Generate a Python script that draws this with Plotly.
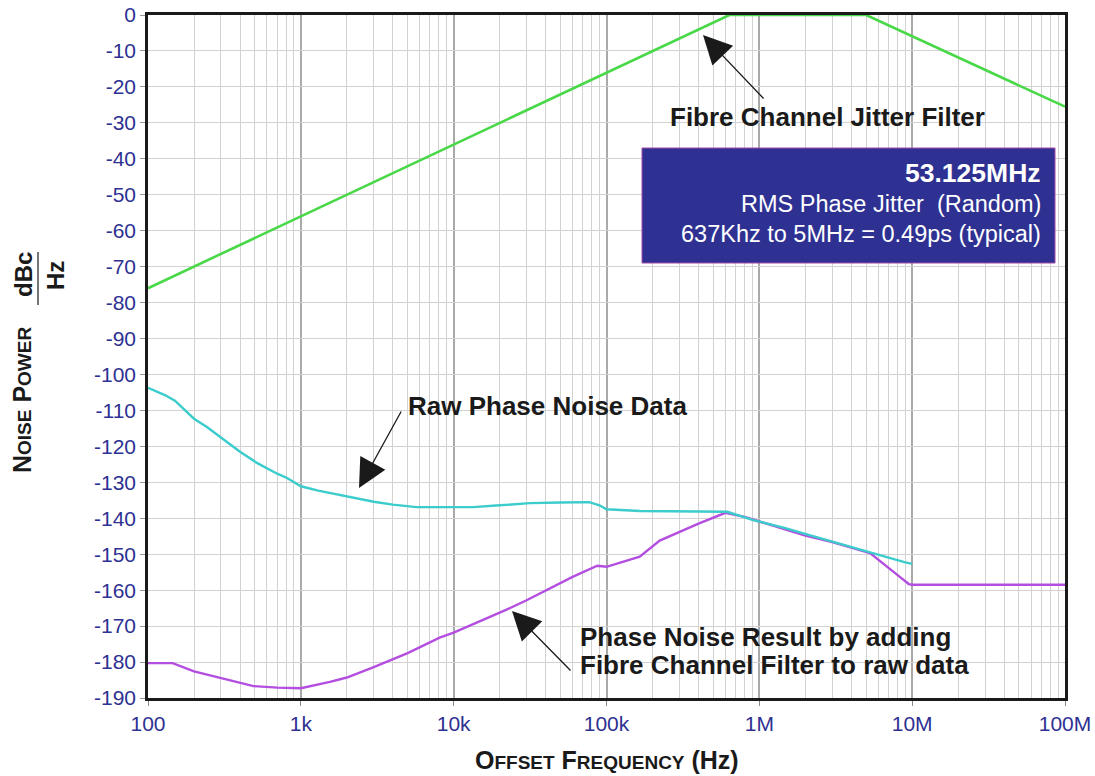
import math
import plotly.graph_objects as go

# ---------------- data ----------------
filter_freq = [100, 637000, 5000000, 100000000]
filter_db = [-76, 0, 0, -25.5]

raw_freq = [100, 130, 150, 200, 243, 300, 400, 516, 700, 813, 1000, 1300, 1800,
            3000, 4000, 5700, 10000, 13400, 20000, 31600, 50000, 77000, 90000,
            100000, 165000, 300000, 617000, 912000, 1500000, 2100000, 3000000,
            4600000, 7000000, 8900000, 10000000]
raw_db = [-103.7, -105.8, -107.3, -112.3, -114.6, -117.6, -121.5, -124.6, -127.6,
          -128.8, -131.1, -132.3, -133.5, -135.4, -136.2, -136.9, -136.9, -136.9,
          -136.4, -135.8, -135.6, -135.5, -136.4, -137.5, -138.0, -138.1, -138.2,
          -140.5, -142.8, -144.6, -146.5, -148.8, -150.9, -152.2, -152.7]

result_freq = [100, 145, 200, 330, 490, 700, 1000, 1550, 2000, 3000, 5000, 8100,
               10000, 22000, 30000, 60000, 87000, 100000, 165000, 223000, 400000,
               600000, 800000, 1000000, 2000000, 3000000, 5300000, 8300000,
               9500000, 10000000, 100000000]
result_db = [-180.3, -180.3, -182.6, -185.0, -186.7, -187.1, -187.3, -185.5, -184.3,
             -181.4, -177.5, -173.2, -171.8, -165.5, -162.8, -156.3, -153.2, -153.5,
             -150.7, -146.2, -141.5, -138.5, -139.6, -140.9, -144.8, -146.6, -149.7,
             -156.3, -158.3, -158.5, -158.5]

x_tick_vals = [100, 1000, 10000, 100000, 1000000, 10000000, 100000000]
x_tick_text = ["100", "1k", "10k", "100k", "1M", "10M", "100M"]
y_tick_vals = list(range(0, -191, -10))
y_tick_text = [str(v) for v in y_tick_vals]

minor_vals = [m * 10 ** d for d in range(2, 8) for m in range(2, 10)]

# ---------------- figure ----------------
FONT = "Liberation Sans, Arial, Helvetica, sans-serif"
TICKCOL = "#2e3192"

fig = go.Figure()
fig.add_trace(go.Scatter(x=filter_freq, y=filter_db, mode="lines",
                         line=dict(color="#48d848", width=2.6),
                         name="Fibre Channel Jitter Filter", showlegend=False))
fig.add_trace(go.Scatter(x=result_freq, y=result_db, mode="lines",
                         line=dict(color="#b34ee0", width=2.4),
                         name="Phase Noise Result", showlegend=False))
fig.add_trace(go.Scatter(x=raw_freq, y=raw_db, mode="lines",
                         line=dict(color="#3ccccc", width=2.4),
                         name="Raw Phase Noise Data", showlegend=False))

L, R, T, B = 148, 30, 15, 78
W, H = 1095, 776
PW, PH = W - L - R, H - T - B


def px(x):
    return (x - L) / PW


def py(y):
    return (H - B - y) / PH


def lx(x):
    return 2 + (x - L) / (PW / 6.0)


def ly(y):
    return -(y - T) / (PH / 190.0)


fig.update_layout(
    width=W, height=H,
    margin=dict(l=L, r=R, t=T, b=B, autoexpand=False),
    paper_bgcolor="white", plot_bgcolor="white",
    font=dict(family=FONT, size=21, color=TICKCOL),
    showlegend=False,
)

fig.update_xaxes(
    type="log", range=[2, 8], automargin=False,
    tickmode="array", tickvals=x_tick_vals, ticktext=x_tick_text,
    tickfont=dict(family=FONT, size=21, color=TICKCOL),
    showgrid=True, gridcolor="#a9a9a9", gridwidth=1.6,
    minor=dict(tickmode="array", tickvals=minor_vals, showgrid=True,
               gridcolor="#d2d2d2", gridwidth=1.4, ticks=""),
    ticks="outside", ticklen=5, tickcolor="#888888",
    showline=True, mirror=True, linecolor="#1a1a1a", linewidth=2.5,
    zeroline=False,
)
fig.update_yaxes(
    range=[-190, 0], automargin=False,
    tickmode="array", tickvals=y_tick_vals, ticktext=y_tick_text,
    tickfont=dict(family=FONT, size=21, color=TICKCOL),
    showgrid=True, gridcolor="#d2d2d2", gridwidth=1.4,
    ticks="outside", ticklen=5, tickcolor="#999999",
    showline=True, mirror=True, linecolor="#1a1a1a", linewidth=2.5,
    zeroline=False,
)

ann = []
BLACK = "#1a1a1a"

# axis titles (small caps)
ann.append(dict(xref="paper", yref="paper", x=px(607), y=py(760), showarrow=False,
                text="<b>O<span style='font-size:19px'>FFSET</span> F<span style='font-size:19px'>REQUENCY</span> (Hz)</b>",
                font=dict(family=FONT, size=25, color=BLACK), xanchor="center", yanchor="middle"))
ann.append(dict(xref="paper", yref="paper", x=px(22), y=py(400), showarrow=False, textangle=-90,
                text="<b>N<span style='font-size:19px'>OISE</span> P<span style='font-size:19px'>OWER</span></b>",
                font=dict(family=FONT, size=25, color=BLACK), xanchor="center", yanchor="middle"))
ann.append(dict(xref="paper", yref="paper", x=px(23), y=py(275), showarrow=False, textangle=-90,
                text="<b>dBc</b>", font=dict(family=FONT, size=24, color=BLACK),
                xanchor="center", yanchor="middle"))
ann.append(dict(xref="paper", yref="paper", x=px(55), y=py(276), showarrow=False, textangle=-90,
                text="<b>Hz</b>", font=dict(family=FONT, size=24, color=BLACK),
                xanchor="center", yanchor="middle"))

# callout labels
ann.append(dict(xref="paper", yref="paper", x=px(668), y=py(117), showarrow=False,
                text="<b>Fibre Channel Jitter Filter</b>", font=dict(family=FONT, size=26, color=BLACK),
                xanchor="left", yanchor="middle"))
ann.append(dict(xref="paper", yref="paper", x=px(406), y=py(406), showarrow=False,
                text="<b>Raw Phase Noise Data</b>", font=dict(family=FONT, size=26, color=BLACK),
                xanchor="left", yanchor="middle"))
ann.append(dict(xref="paper", yref="paper", x=px(578), y=py(637), showarrow=False,
                text="<b>Phase Noise Result by adding</b>", font=dict(family=FONT, size=26, color=BLACK),
                xanchor="left", yanchor="middle"))
ann.append(dict(xref="paper", yref="paper", x=px(578), y=py(665), showarrow=False,
                text="<b>Fibre Channel Filter to raw data</b>", font=dict(family=FONT, size=26, color=BLACK),
                xanchor="left", yanchor="middle"))

# arrows
for (hx, hy, tx, ty) in [(703, 35, 765, 100), (359, 488, 402, 410), (512, 611, 572, 672)]:
    ann.append(dict(xref="x", yref="y", x=lx(hx), y=ly(hy), ax=tx - hx, ay=ty - hy,
                    text="", showarrow=True, arrowhead=2, arrowsize=4.4, arrowwidth=1.3,
                    arrowcolor=BLACK, standoff=0, startstandoff=0))

# info box text
ann.append(dict(xref="paper", yref="paper", x=px(1043), y=py(173), showarrow=False,
                text="<b>53.125MHz</b>", font=dict(family=FONT, size=26.5, color="white"),
                xanchor="right", yanchor="middle"))
ann.append(dict(xref="paper", yref="paper", x=px(1043), y=py(204), showarrow=False,
                text="RMS Phase Jitter  (Random)", font=dict(family=FONT, size=23.5, color="white"),
                xanchor="right", yanchor="middle"))
ann.append(dict(xref="paper", yref="paper", x=px(1043), y=py(234), showarrow=False,
                text="637Khz to 5MHz = 0.49ps (typical)", font=dict(family=FONT, size=23.5, color="white"),
                xanchor="right", yanchor="middle"))

fig.update_layout(annotations=ann)

fig.add_shape(type="rect", xref="paper", yref="paper",
              x0=px(642), x1=px(1055), y0=py(263), y1=py(148),
              fillcolor="#2e3192", line=dict(color="#a24aa8", width=1), layer="above")
fig.add_shape(type="line", xref="paper", yref="paper",
              x0=px(38), x1=px(38), y0=py(252), y1=py(305),
              line=dict(color=BLACK, width=1.2))

fig.write_html("out.html", config={"displayModeBar": False})

# remove the default body margin so the figure fills the window exactly
with open("out.html", "r", encoding="utf-8") as f:
    html = f.read()
html = html.replace("<head>", "<head><style>html,body{margin:0;padding:0;overflow:hidden;}</style>", 1)
with open("out.html", "w", encoding="utf-8") as f:
    f.write(html)
